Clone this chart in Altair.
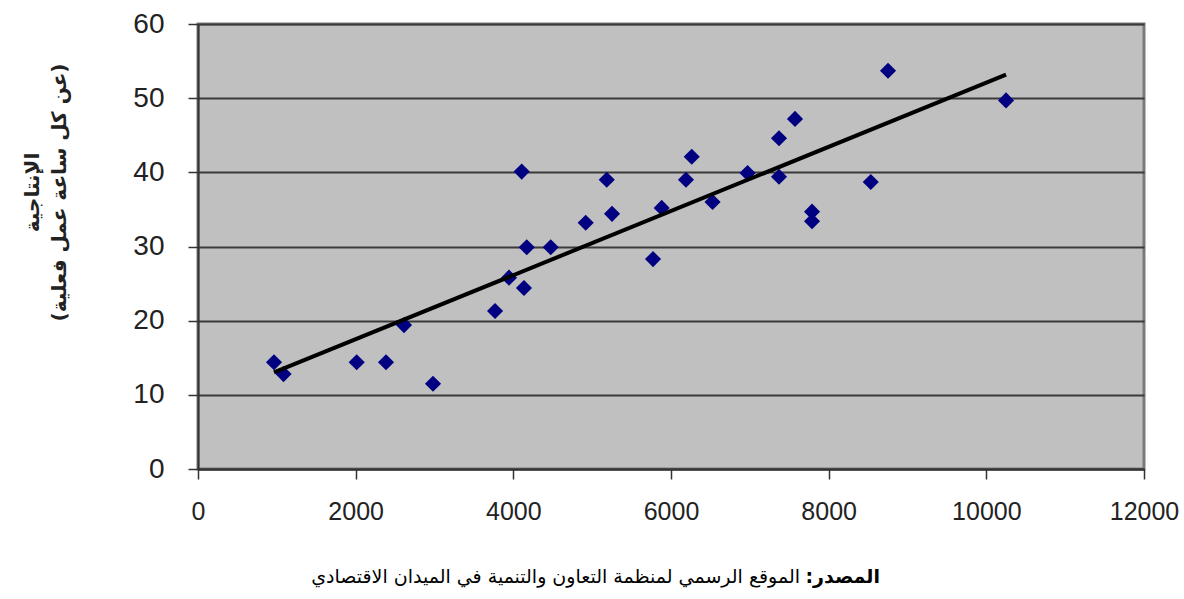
import altair as alt
import pandas as pd

x_vals = [964, 1085, 2013, 2385, 2613, 2981, 3768, 3945, 4106, 4135,
          4170, 4474, 4918, 5185, 5252, 5772, 5882, 6190, 6263, 6527,
          6971, 7370, 7370, 7573, 7789, 7789, 8534, 8753, 10250]
y_vals = [14.4, 12.8, 14.4, 14.4, 19.4, 11.5, 21.3, 25.8, 40.1, 24.4,
          29.9, 29.9, 33.2, 39.0, 34.4, 28.3, 35.2, 39.0, 42.1, 36.0,
          39.9, 44.6, 39.4, 47.2, 34.7, 33.4, 38.7, 53.7, 49.7]

y_title = ["الإنتاجية", "(عن كل ساعة عمل فعلية)"]
source_bold = "\u200fالمصدر:\u200f"
source_rest = "الموقع الرسمي لمنظمة التعاون والتنمية في الميدان الاقتصادي"

df = pd.DataFrame({"x": x_vals, "y": y_vals})

x_enc = alt.X("x:Q", scale=alt.Scale(domain=[0, 12000], nice=False),
              axis=alt.Axis(values=[0, 2000, 4000, 6000, 8000, 10000, 12000],
                            format="d", title=None, grid=False,
                            labelFont="Liberation Sans", labelFontSize=25,
                            labelColor="#222222", labelPadding=20,
                            tickSize=10, tickColor="#333333", domainColor="#333333",
                            domainWidth=2, tickWidth=1.5, labelFlush=False))
y_enc = alt.Y("y:Q", scale=alt.Scale(domain=[0, 60], nice=False),
              axis=alt.Axis(values=[0, 10, 20, 30, 40, 50, 60], format="d", title=y_title,
                            grid=True, gridColor="#3a3a3a", gridWidth=1.8,
                            labelFont="Liberation Sans", labelFontSize=28,
                            labelColor="#222222", labelPadding=24, tickSize=10,
                            tickColor="#333333", domainColor="#333333", domainWidth=2,
                            tickWidth=1.5, titleFont="DejaVu Sans", titleFontSize=20,
                            titleFontWeight="bold", titleColor="#222222",
                            titleAngle=-90, titleX=-176, titleY=168,
                            titleAlign="center", titleBaseline="top",
                            titleLineHeight=27))

base = alt.Chart(df)

points = base.mark_point(shape="diamond", filled=True, size=260, color="#000080",
                         opacity=1).encode(x=x_enc, y=y_enc)

trend = base.transform_regression("x", "y").mark_line(color="#000000", strokeWidth=4).encode(
    x="x:Q", y="y:Q")

cap = pd.DataFrame({"b": [source_bold], "r": [source_rest]})
cap_bold = alt.Chart(cap).mark_text(font="DejaVu Sans", fontSize=19, fontWeight="bold",
                                    align="right", baseline="middle", color="#000000").encode(
    text="b:N", x=alt.value(682), y=alt.value(553))
cap_rest = alt.Chart(cap).mark_text(font="DejaVu Sans", fontSize=19,
                                    align="right", baseline="middle", color="#000000").encode(
    text="r:N", x=alt.value(602), y=alt.value(553))

chart = alt.layer(points, trend, cap_bold, cap_rest).properties(
    width=946, height=445,
    autosize=alt.AutoSizeParams(type="none"),
    padding={"left": 198, "top": 24, "right": 40, "bottom": 130},
    background="#ffffff",
).configure_view(fill="#c0c0c0", stroke="#7a7a7a", strokeWidth=3)

chart.save("out.html", embed_options={"renderer": "svg", "actions": False})
